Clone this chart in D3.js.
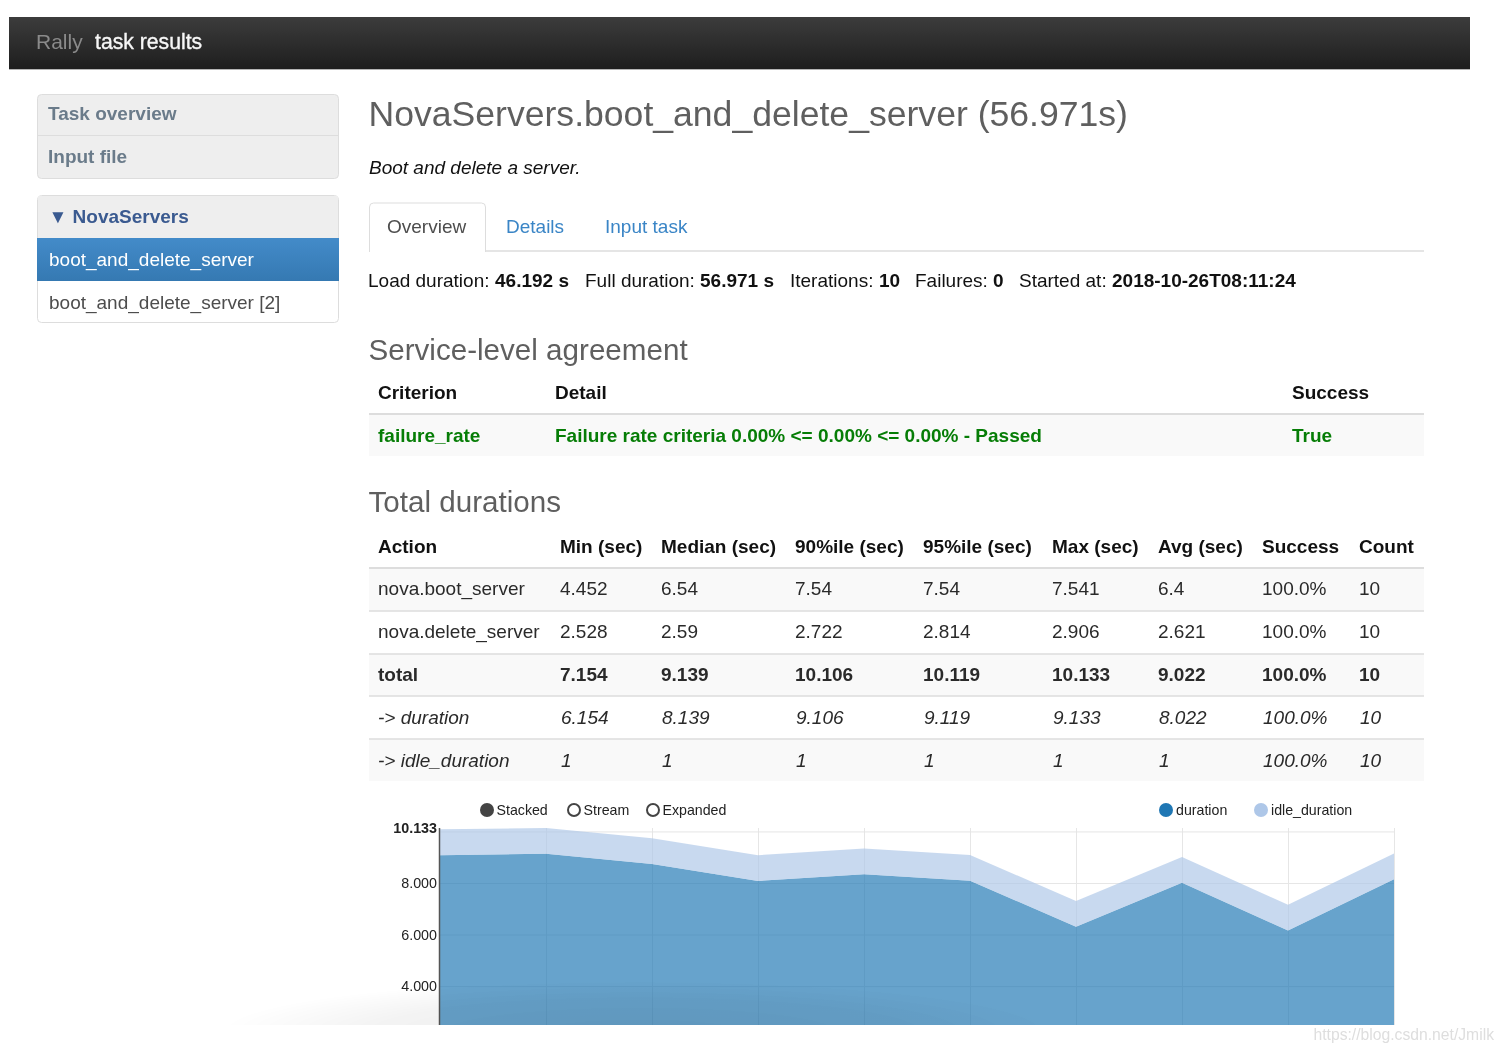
<!DOCTYPE html>
<html>
<head>
<meta charset="utf-8">
<title>Rally task results</title>
<script src="https://cdn.jsdelivr.net/npm/d3@7"></script>
<style>
  html, body { margin: 0; padding: 0; background: #fff; }
  svg { display: block; font-family: "Liberation Sans", Arial, sans-serif; filter: blur(0.4px); }
</style>
</head>
<body>
<svg id="page" width="1504" height="1052"></svg>
<script>
// chart data, one value per iteration
const iterations = [1, 2, 3, 4, 5, 6, 7, 8, 9, 10];
const duration = [9.08, 9.133, 8.74, 8.08, 8.34, 8.09, 6.3, 8.01, 6.154, 8.14];
const idleDuration = [1, 1, 1, 1, 1, 1, 1, 1, 1, 1];
const seriesNames = ["duration", "idle_duration"];
const yTicks = [10, 8, 6, 4];
const yMax = 10.133;

// page content
const overviewItems = ["Task overview", "Input file"];
const scenarioItems = ["boot_and_delete_server", "boot_and_delete_server [2]"];
const tabs = ["Overview", "Details", "Input task"];
const summary = [
  ["Load duration:", "46.192 s"],
  ["Full duration:", "56.971 s"],
  ["Iterations:", "10"],
  ["Failures:", "0"],
  ["Started at:", "2018-10-26T08:11:24"],
];
const slaColumns = ["Criterion", "Detail", "Success"];
const slaRow = ["failure_rate", "Failure rate criteria 0.00% <= 0.00% <= 0.00% - Passed", "True"];
const durationColumns = ["Action", "Min (sec)", "Median (sec)", "90%ile (sec)", "95%ile (sec)", "Max (sec)", "Avg (sec)", "Success", "Count"];
const durationRows = [
  ["nova.boot_server", "4.452", "6.54", "7.54", "7.54", "7.541", "6.4", "100.0%", "10"],
  ["nova.delete_server", "2.528", "2.59", "2.722", "2.814", "2.906", "2.621", "100.0%", "10"],
  ["total", "7.154", "9.139", "10.106", "10.119", "10.133", "9.022", "100.0%", "10"],
  ["-> duration", "6.154", "8.139", "9.106", "9.119", "9.133", "8.022", "100.0%", "10"],
  ["-> idle_duration", "1", "1", "1", "1", "1", "1", "100.0%", "10"],
];
const modes = ["Stacked", "Stream", "Expanded"];

const bodySize = 19;
const svg = d3.select("#page");
const defs = svg.append("defs");

function vGradient(id, top, bottom) {
  const g = defs.append("linearGradient").attr("id", id).attr("x1", 0).attr("x2", 0).attr("y1", 0).attr("y2", 1);
  g.append("stop").attr("offset", "0%").attr("stop-color", top);
  g.append("stop").attr("offset", "100%").attr("stop-color", bottom);
}
vGradient("navbar", "#3c3c3c", "#1e1e1e");
vGradient("active", "#438bc9", "#3579b2");

function label(parent, str, x, y, size, color, opts = {}) {
  return parent
    .append("text")
    .text(str)
    .attr("x", x)
    .attr("y", y)
    .attr("font-size", size)
    .attr("fill", color)
    .attr("font-weight", opts.bold ? "bold" : null)
    .attr("font-style", opts.italic ? "italic" : null)
    .attr("text-anchor", opts.anchor || null);
}

function box(x, y, w, h, fill, stroke) {
  return svg
    .append("rect")
    .attr("x", x)
    .attr("y", y)
    .attr("width", w)
    .attr("height", h)
    .attr("fill", fill)
    .attr("stroke", stroke || "none");
}

function rule(x1, x2, y, color, width) {
  svg
    .append("line")
    .attr("x1", x1)
    .attr("x2", x2)
    .attr("y1", y)
    .attr("y2", y)
    .attr("stroke", color)
    .attr("stroke-width", width);
}

// top bar
box(9, 17, 1461, 52, "url(#navbar)");
rule(9, 1470, 69.5, "#b5b5b5", 1);
label(svg, "Rally", 36, 49, 21, "#8a8a8a");
label(svg, "task results", 95, 49, 21.2, "#f7f7f7").attr("stroke", "#f7f7f7").attr("stroke-width", 0.35);

// sidebar
box(37.5, 94.5, 301, 84, "#eeeeee", "#dddddd").attr("rx", 4);
rule(38, 338, 135.5, "#dddddd", 1);
overviewItems.forEach((item, i) => label(svg, item, 48, 120 + i * 43, bodySize, "#6a7b8a", { bold: true }));

box(37.5, 195.5, 301, 127, "#ffffff", "#dddddd").attr("rx", 4);
box(38, 196, 300, 42, "#eeeeee");
label(svg, "▼ NovaServers", 48.5, 223, bodySize, "#3a5a90", { bold: true });
box(37, 238, 302, 43, "url(#active)");
label(svg, scenarioItems[0], 49, 265.6, bodySize, "#ffffff");
label(svg, scenarioItems[1], 49, 308.6, bodySize, "#4d4d4d");

// heading
label(svg, "NovaServers.boot_and_delete_server (56.971s)", 368.5, 125.5, 35.6, "#5f5f5f");
label(svg, "Boot and delete a server.", 369, 174, bodySize, "#111111", { italic: true });

// tabs
rule(369, 1424, 251, "#dddddd", 1.5);
svg
  .append("path")
  .attr("d", "M369.5,252V207a4,4 0 0 1 4,-4H481.5a4,4 0 0 1 4,4V252")
  .attr("fill", "#ffffff")
  .attr("stroke", "#dddddd");
const tabX = [387, 506, 605];
tabs.forEach((tab, i) => label(svg, tab, tabX[i], 232.5, bodySize, i === 0 ? "#4d4d4d" : "#3a85c6"));

// summary line
const summaryX = [[368, 495], [585, 700], [790, 879], [915, 993], [1019, 1112]];
summary.forEach(([name, value], i) => {
  label(svg, name, summaryX[i][0], 286.5, bodySize, "#111111");
  label(svg, value, summaryX[i][1], 286.5, bodySize, "#111111", { bold: true });
});

// service-level agreement table
label(svg, "Service-level agreement", 368.5, 360, 29.6, "#5f5f5f");
const slaX = [378, 555, 1292];
box(369, 415, 1055, 41, "#f9f9f9");
rule(369, 1424, 414, "#dddddd", 2);
slaColumns.forEach((c, i) => label(svg, c, slaX[i], 399, bodySize, "#111111", { bold: true }));
slaRow.forEach((c, i) => label(svg, c, slaX[i], 442, bodySize, "#067d06", { bold: true }));

// total durations table
label(svg, "Total durations", 368.5, 512, 29.6, "#5f5f5f");
const colX = [378, 560, 661, 795, 923, 1052, 1158, 1262, 1359];
const rowY = [569, 611, 654, 696, 739, 781];
durationRows.forEach((row, r) => {
  if (r % 2 === 0) box(369, rowY[r], 1055, rowY[r + 1] - rowY[r], "#f9f9f9");
});
rule(369, 1424, 568, "#dddddd", 2);
rowY.slice(1, 5).forEach((y) => rule(369, 1424, y, "#dddddd", 1.5));
durationColumns.forEach((c, i) => label(svg, c, colX[i], 553, bodySize, "#111111", { bold: true }));
durationRows.forEach((row, r) => {
  row.forEach((c, i) =>
    label(svg, c, colX[i] + (r > 2 && i > 0 ? 1 : 0), 595.4 + r * 42.9, bodySize, "#2a2a2a", {
      bold: r === 2,
      italic: r > 2,
    })
  );
});

// area chart
const x = d3.scaleLinear().domain([iterations[0], iterations[iterations.length - 1]]).range([440, 1394]);
const y = d3.scaleLinear().domain([2.49, yMax]).range([1025, 828]);

defs
  .append("clipPath")
  .attr("id", "plot")
  .append("rect")
  .attr("x", 440)
  .attr("y", 820)
  .attr("width", 954)
  .attr("height", 205);

const rows = iterations.map((it, i) => ({ it, duration: duration[i], idle_duration: idleDuration[i] }));
const stacked = d3.stack().keys(seriesNames)(rows);
const color = d3.scaleOrdinal().domain(seriesNames).range(["#1f77b4", "#aec7e8"]);

const xAxis = d3.axisBottom(x).tickValues(iterations.slice(1)).tickSize(-197).tickFormat("");
svg
  .append("g")
  .attr("transform", "translate(0,1025)")
  .call(xAxis)
  .call((g) => g.select(".domain").remove())
  .call((g) => g.selectAll("line").attr("stroke", "#e6e6e6"));

const yAxis = d3.axisLeft(y).tickValues(yTicks.concat(yMax)).tickSize(0).tickPadding(3).tickFormat(d3.format(".3f"));
const yAxisG = svg
  .append("g")
  .attr("transform", "translate(440,0)")
  .call(yAxis)
  .call((g) => g.select(".domain").remove());
yAxisG
  .selectAll(".tick text")
  .attr("font-size", 14.3)
  .attr("font-family", "Liberation Sans")
  .attr("fill", "#222222")
  .attr("font-weight", (d) => (d === yMax ? "bold" : null))
  .attr("display", (d) => (d === 10 ? "none" : null));
yAxisG
  .selectAll(".tick")
  .filter((d) => d !== yMax)
  .append("line")
  .attr("x2", 954)
  .attr("stroke", "#e6e6e6");

const area = d3
  .area()
  .x((d) => x(d.data.it))
  .y0((d) => y(d[0]))
  .y1((d) => y(d[1]));

svg
  .append("g")
  .attr("clip-path", "url(#plot)")
  .selectAll("path")
  .data(stacked)
  .join("path")
  .attr("d", area)
  .attr("fill", (d) => color(d.key))
  .attr("fill-opacity", 0.68);

svg
  .append("line")
  .attr("x1", 439.5)
  .attr("x2", 439.5)
  .attr("y1", y(yMax))
  .attr("y2", y.range()[0])
  .attr("stroke", "#555555")
  .attr("stroke-width", 1.5);

// legends
const modeX = [487, 574, 653];
modes.forEach((m, i) => {
  svg
    .append("circle")
    .attr("cx", modeX[i])
    .attr("cy", 810)
    .attr("r", i === 0 ? 7 : 6)
    .attr("fill", i === 0 ? "#444444" : "#ffffff")
    .attr("stroke", "#444444")
    .attr("stroke-width", i === 0 ? 0 : 2);
  label(svg, m, modeX[i] + 9.5, 815, 14.2, "#222222");
});
const seriesX = [1166, 1261];
seriesNames.forEach((name, i) => {
  svg
    .append("circle")
    .attr("cx", seriesX[i])
    .attr("cy", 810)
    .attr("r", 7)
    .attr("fill", color(name));
  label(svg, name, seriesX[i] + 10, 815, 14.2, "#222222");
});

// soft shadow along the bottom edge of the screenshot
const shadow = defs
  .append("radialGradient")
  .attr("id", "shadow")
  .attr("gradientUnits", "userSpaceOnUse")
  .attr("cx", 0)
  .attr("cy", 0)
  .attr("r", 1)
  .attr("gradientTransform", "translate(640,1032) scale(420,52)");
shadow.append("stop").attr("offset", "0%").attr("stop-color", "#000").attr("stop-opacity", 0.08);
shadow.append("stop").attr("offset", "65%").attr("stop-color", "#000").attr("stop-opacity", 0.045);
shadow.append("stop").attr("offset", "100%").attr("stop-color", "#000").attr("stop-opacity", 0);
svg
  .append("rect")
  .attr("x", 220)
  .attr("y", 975)
  .attr("width", 840)
  .attr("height", 50)
  .attr("fill", "url(#shadow)");

label(svg, "https://blog.csdn.net/Jmilk", 1494, 1040, 15.7, "#dedede", { anchor: "end" });
</script>
</body>
</html>
